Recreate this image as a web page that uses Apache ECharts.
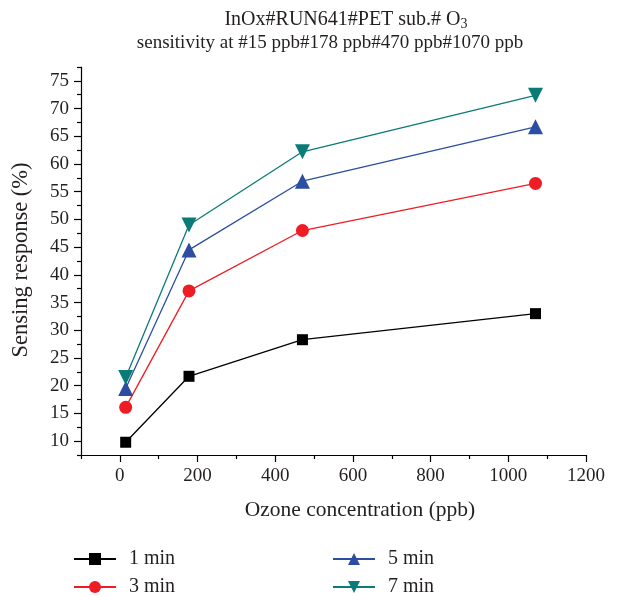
<!DOCTYPE html>
<html><head><meta charset="utf-8">
<script src="https://cdn.jsdelivr.net/npm/echarts@6/dist/echarts.min.js"></script>
<style>html,body{margin:0;padding:0;background:#fff}#c{width:635px;height:596px}</style>
</head><body><div id="c"></div>
<script>
const xValues = [15, 178, 470, 1070];
const seriesNames = ['1 min', '3 min', '5 min', '7 min'];
const min1 = [9.8, 21.7, 28.3, 33.0];
const min3 = [16.1, 37.1, 48.0, 56.5];
const min5 = [19.5, 44.5, 56.9, 66.7];
const min7 = [21.5, 49.0, 62.2, 72.4];
const xMajorTicks = [0, 200, 400, 600, 800, 1000, 1200];
const xMinorTicks = [-100, 100, 300, 500, 700, 900, 1100];
const yMajorTicks = [10, 15, 20, 25, 30, 35, 40, 45, 50, 55, 60, 65, 70, 75];
const yMinorTicks = [7.5, 12.5, 17.5, 22.5, 27.5, 32.5, 37.5, 42.5, 47.5, 52.5, 57.5, 62.5, 67.5, 72.5, 77.5];

const FONT = 'Liberation Serif';
const TXT = '#231f20';
const chart = echarts.init(document.getElementById('c'), null, {renderer: 'canvas'});
const pair = arr => xValues.map((x, i) => [x, arr[i]]);
const mk = (name, data, color, symbol, size, rot) => ({
  name, type: 'line', data: pair(data), symbol, symbolSize: size, symbolRotate: rot || 0,
  xAxisIndex: 0, yAxisIndex: 0,
  lineStyle: {color, width: 1.3}, itemStyle: {color}, showSymbol: true, z: 3
});
const lineAxis = {show: true, onZero: false, lineStyle: {color: '#000', width: 1.2}};
const legendItem = (name, left, top) => ({
  data: [name], orient: 'horizontal', left, top, itemWidth: 42, itemHeight: 15, itemGap: 0,
  textStyle: {fontFamily: FONT, fontSize: 20, color: TXT, padding: [0, 0, 0, 8]}
});
chart.setOption({
  animation: false,
  textStyle: {fontFamily: FONT},
  title: [
    {text: 'InOx#RUN641#PET sub.# O{s|3}', left: 341, top: 4, textAlign: 'center',
     textStyle: {fontFamily: FONT, fontSize: 20, fontWeight: 'normal', color: TXT,
       rich: {s: {fontFamily: FONT, fontSize: 14, color: TXT, verticalAlign: 'bottom', padding: [8, 0, 0, 0]}}}},
    {text: 'sensitivity at #15 ppb#178 ppb#470 ppb#1070 ppb', left: 325, top: 29, textAlign: 'center',
     textStyle: {fontFamily: FONT, fontSize: 19, fontWeight: 'normal', color: TXT}}
  ],
  grid: {left: 81, right: 49, top: 67, bottom: 141, containLabel: false},
  xAxis: [
    {type: 'value', min: -100, max: 1200, position: 'bottom', axisLine: lineAxis, splitLine: {show: false},
      axisTick: {show: true, inside: false, length: 7, customValues: xMajorTicks, lineStyle: {color: '#000', width: 1.2}},
      axisLabel: {show: true, margin: 12, customValues: xMajorTicks, formatter: v => String(v), fontFamily: FONT, fontSize: 19, color: TXT}},
    {type: 'value', min: -100, max: 1200, position: 'bottom', gridIndex: 0,
      axisLine: {show: false}, splitLine: {show: false}, axisLabel: {show: false},
      axisTick: {show: true, inside: false, length: 4, customValues: xMinorTicks, lineStyle: {color: '#000', width: 1.2}}}
  ],
  yAxis: [
    {type: 'value', min: 7.5, max: 77.5, position: 'left', axisLine: lineAxis, splitLine: {show: false},
      axisTick: {show: true, inside: false, length: 7, customValues: yMajorTicks, lineStyle: {color: '#000', width: 1.2}},
      axisLabel: {show: true, margin: 12, customValues: yMajorTicks, formatter: v => String(v), fontFamily: FONT, fontSize: 19, color: TXT}},
    {type: 'value', min: 7.5, max: 77.5, position: 'left', gridIndex: 0,
      axisLine: {show: false, onZero: false}, splitLine: {show: false}, axisLabel: {show: false},
      axisTick: {show: true, inside: false, length: 4, customValues: yMinorTicks, lineStyle: {color: '#000', width: 1.2}}}
  ],
  graphic: [
    {type: 'text', x: 360, y: 499, style: {text: 'Ozone concentration (ppb)', fontFamily: FONT, fontSize: 21.5, fill: TXT, align: 'center'}},
    {type: 'text', rotation: Math.PI / 2, x: 10, y: 260, style: {text: 'Sensing response (%)', fontFamily: FONT, fontSize: 22.5, fill: TXT, align: 'center'}}
  ],
  legend: [
    legendItem(seriesNames[0], 68, 544),
    legendItem(seriesNames[1], 68, 572),
    legendItem(seriesNames[2], 327, 544),
    legendItem(seriesNames[3], 327, 572)
  ],
  series: [
    mk(seriesNames[0], min1, '#000000', 'rect', 11),
    mk(seriesNames[1], min3, '#ee1c25', 'circle', 13),
    mk(seriesNames[2], min5, '#2b4ea2', 'triangle', 15),
    mk(seriesNames[3], min7, '#0a7b76', 'triangle', 15, 180)
  ]
});
</script></body></html>
